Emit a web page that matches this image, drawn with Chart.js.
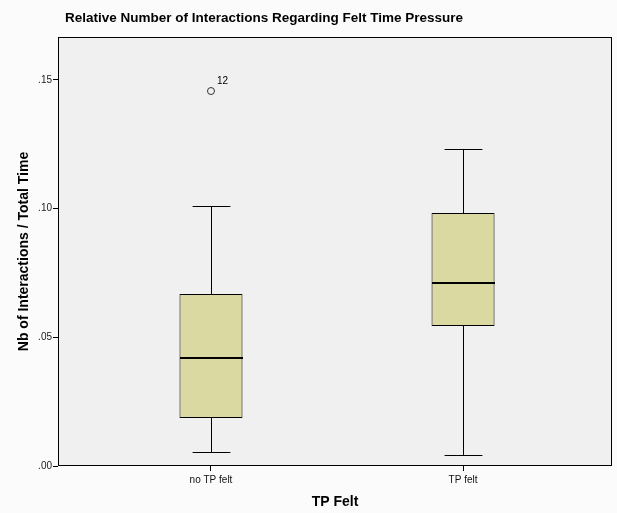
<!DOCTYPE html>
<html>
<head>
<meta charset="utf-8">
<script src="https://cdn.jsdelivr.net/npm/chart.js@4.4.1/dist/chart.umd.min.js"></script>
<style>
	html, body { margin: 0; padding: 0; background: #fbfbfb; }
	#wrap { width: 617px; height: 513px; }
</style>
</head>
<body>
<div id="wrap"><canvas id="chart"></canvas></div>
<script>
// box plot data
const categories = ['no TP felt', 'TP felt'];
const xPositions = [1, 2];
const whiskerLow = [0.0054, 0.0043];
const q1 = [0.0187, 0.0544];
const median = [0.0420, 0.0711];
const q3 = [0.0668, 0.0983];
const whiskerHigh = [0.1010, 0.1232];
const outliers = [{ x: 1, y: 0.1457, label: '12' }];
const yTicks = [0, 0.05, 0.10, 0.15];

const font = 'Liberation Sans, Arial, sans-serif';

const plotBg = {
	id: 'plotBg',
	beforeDatasetsDraw(chart) {
		const { ctx, chartArea: a } = chart;
		ctx.save();
		ctx.fillStyle = '#f0f0f0';
		ctx.fillRect(a.left, a.top, a.right - a.left, a.bottom - a.top);
		ctx.restore();
	},
	afterDraw(chart) {
		const { ctx, chartArea: a } = chart;
		ctx.save();
		ctx.strokeStyle = '#000';
		ctx.lineWidth = 1;
		ctx.strokeRect(a.left + 0.5, a.top + 0.5, a.right - a.left - 1, a.bottom - a.top - 1);
		// title
		ctx.fillStyle = '#000';
		ctx.font = 'bold 13.5px ' + font;
		ctx.textBaseline = 'middle';
		ctx.fillText('Relative Number of Interactions Regarding Felt Time Pressure', 65, 18);
		ctx.restore();
	}
};

const whiskers = {
	id: 'whiskers',
	afterDatasetsDraw(chart) {
		const { ctx, scales: { x, y } } = chart;
		const boxW = chart.getDatasetMeta(0).data[0].width;
		ctx.save();
		ctx.strokeStyle = '#000';
		xPositions.forEach((pos, i) => {
			const px = Math.round(x.getPixelForValue(pos)) + 0.5;
			const cap = boxW * 0.3;
			ctx.lineWidth = 1;
			ctx.beginPath();
			ctx.moveTo(px, y.getPixelForValue(whiskerHigh[i]));
			ctx.lineTo(px, y.getPixelForValue(q3[i]));
			ctx.moveTo(px, y.getPixelForValue(q1[i]));
			ctx.lineTo(px, y.getPixelForValue(whiskerLow[i]));
			[whiskerHigh[i], whiskerLow[i]].forEach((v) => {
				const py = Math.round(y.getPixelForValue(v)) + 0.5;
				ctx.moveTo(px - cap, py);
				ctx.lineTo(px + cap, py);
			});
			ctx.stroke();
			ctx.lineWidth = 2;
			ctx.beginPath();
			const pm = Math.round(y.getPixelForValue(median[i]));
			ctx.moveTo(px - boxW / 2, pm);
			ctx.lineTo(px + boxW / 2, pm);
			ctx.stroke();
		});
		ctx.fillStyle = '#000';
		ctx.font = '10px ' + font;
		ctx.textBaseline = 'middle';
		outliers.forEach((o) => {
			ctx.fillText(o.label, x.getPixelForValue(o.x) + 6, y.getPixelForValue(o.y) - 10);
		});
		ctx.restore();
	}
};

new Chart(document.getElementById('chart'), {
	type: 'bar',
	data: {
		datasets: [
			{
				type: 'bar',
				data: xPositions.map((p, i) => ({ x: p, y: [q1[i], q3[i]] })),
				backgroundColor: '#dbd9a2',
				borderColor: '#000',
				borderWidth: 1,
				borderSkipped: false,
				categoryPercentage: 0.5,
				barPercentage: 0.5
			},
			{
				type: 'scatter',
				data: outliers.map(o => ({ x: o.x, y: o.y })),
				pointStyle: 'circle',
				pointRadius: 3.5,
				borderColor: '#333',
				borderWidth: 1,
				backgroundColor: 'rgba(0,0,0,0)'
			}
		]
	},
	options: {
		responsive: true,
		maintainAspectRatio: false,
		animation: false,
		layout: { padding: { left: 0, right: 5, top: 37, bottom: 0 } },
		plugins: {
			legend: { display: false },
			tooltip: { enabled: false }
		},
		scales: {
			x: {
				type: 'linear',
				offset: false,
				min: 0.393,
				max: 2.591,
				afterBuildTicks: (s) => { s.ticks = xPositions.map(v => ({ value: v })); },
				afterFit: (s) => { s.height = 47; },
				ticks: {
					color: '#111',
					font: { family: font, size: 10 },
					padding: 3,
					maxRotation: 0,
					callback: (v) => categories[xPositions.indexOf(v)]
				},
				grid: { offset: false, drawOnChartArea: false, drawTicks: true, tickLength: 5, color: '#000' },
				border: { display: false },
				title: {
					display: true,
					text: 'TP Felt',
					color: '#000',
					font: { family: font, size: 14, weight: 'bold' },
					padding: { top: 0, bottom: 2 }
				}
			},
			y: {
				min: 0,
				max: 0.1667,
				afterBuildTicks: (s) => { s.ticks = yTicks.map(v => ({ value: v })); },
				afterFit: (s) => { s.width = 58; },
				ticks: {
					color: '#222',
					font: { family: font, size: 10 },
					padding: 1,
					callback: (v) => v.toFixed(2).replace(/^0/, '')
				},
				grid: { drawOnChartArea: false, drawTicks: true, tickLength: 5, color: '#000' },
				border: { display: false },
				title: {
					display: true,
					text: 'Nb of Interactions / Total Time',
					color: '#000',
					font: { family: font, size: 14, weight: 'bold' },
					padding: { top: 16, bottom: 0 }
				}
			}
		}
	},
	plugins: [plotBg, whiskers]
});
</script>
</body>
</html>
